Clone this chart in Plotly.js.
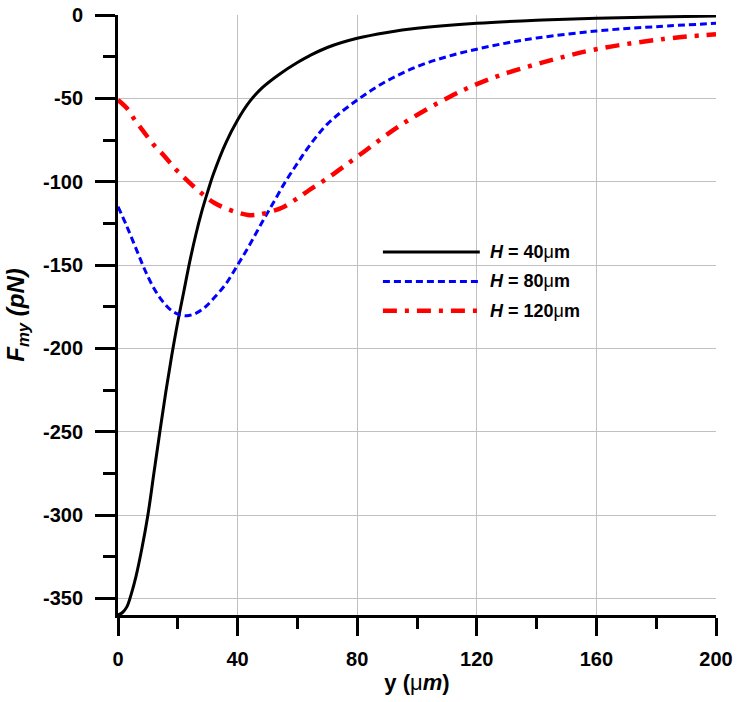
<!DOCTYPE html>
<html>
<head>
<meta charset="utf-8">
<script src="https://cdn.plot.ly/plotly-3.0.1.min.js"></script>
<style>html,body{margin:0;padding:0;background:#fff;}#chart{width:743px;height:702px;}</style>
</head>
<body>
<div id="chart"></div>
<script>
// H = 40 µm
const x40 = [0, 1.5, 3, 4.5, 6, 8, 10, 12, 14, 16, 18, 20, 22, 24, 26, 28, 30, 32, 36, 40, 44, 48, 54, 60, 64, 70, 80, 90, 100, 120, 140, 160, 180, 200];
const y40 = [-360, -358.5, -355, -347, -337, -320, -300, -275, -250, -226, -204, -184, -166, -148, -132, -118, -106, -95, -77, -63, -52, -44, -35.5, -28.5, -24.5, -19.5, -14, -10.5, -8, -5, -3.2, -2, -1.2, -0.6];
// H = 80 µm
const x80 = [0, 3, 6, 9, 12, 15, 18, 21, 23, 26, 29, 32, 36, 40, 44, 48, 52, 56, 60, 64, 70, 80, 90, 100, 110, 120, 130, 140, 160, 180, 200];
const y80 = [-115, -127, -140, -153, -164, -172, -177.5, -180, -180.5, -179, -175.5, -170, -161.5, -150, -138, -125, -112.5, -100, -89, -78.5, -65.5, -51, -39.5, -31, -25, -20.5, -16.8, -13.8, -9.6, -7, -5];
// H = 120 µm
const x120 = [0, 3, 6, 9, 12, 15.7, 19, 22.4, 26, 29, 32, 36, 40, 43.5, 46, 49, 55, 60, 64, 70, 80, 95, 111, 120, 128, 143, 160, 182, 200];
const y120 = [-51, -56, -64, -71, -78, -85, -92, -98, -104, -108.5, -112.5, -116, -118.5, -120, -120, -119, -115.5, -110, -105, -98, -85, -65.5, -49, -41.5, -36, -28, -20.5, -14.5, -11.5];
const seriesNames = ['<b><i>H</i> = 40</b>\u03bc<b>m</b>', '<b><i>H</i> = 80</b>\u03bc<b>m</b>', '<b><i>H</i> = 120</b>\u03bc<b>m</b>'];
const xTickVals = [0, 40, 80, 120, 160, 200];
const yTickVals = [-350, -300, -250, -200, -150, -100, -50, 0];

const font = 'Liberation Sans, Arial, sans-serif';
const traces = [
  {x: x40, y: y40, mode: 'lines', line: {color: '#000000', width: 3, shape: 'spline', smoothing: 1}, name: seriesNames[0], showlegend: false},
  {x: x80, y: y80, mode: 'lines', line: {color: '#0000ff', width: 3, dash: '7px,4px', shape: 'spline', smoothing: 1}, name: seriesNames[1], showlegend: false},
  {x: x120, y: y120, mode: 'lines', line: {color: '#ff0000', width: 4.5, dash: '14px,8px,4px,8px', shape: 'spline', smoothing: 1}, name: seriesNames[2], showlegend: false}
];

const legY = [0.605, 0.556, 0.507];
const legColors = ['#000000', '#0000ff', '#ff0000'];
const legDash = ['solid', '7px,4px', '14px,8px,4px,8px'];
const legW = [3, 3, 4.5];
const shapes = legY.map((yy, i) => ({type: 'line', xref: 'paper', yref: 'paper', x0: 0.443, x1: 0.605, y0: yy, y1: yy, line: {color: legColors[i], width: legW[i], dash: legDash[i]}}));
const annotations = legY.map((yy, i) => ({xref: 'paper', yref: 'paper', x: 0.618, y: yy, xanchor: 'left', yanchor: 'middle', showarrow: false, text: seriesNames[i], font: {family: font, size: 18, color: '#000'}}));

const layout = {
  width: 743, height: 702,
  margin: {l: 118, r: 27, t: 15, b: 87},
  paper_bgcolor: '#fff', plot_bgcolor: '#fff',
  font: {family: font, color: '#000'},
  showlegend: false,
  xaxis: {
    range: [0, 200], tickvals: xTickVals, ticktext: xTickVals.map(v => '<b>' + v + '</b>'),
    ticks: 'outside', ticklen: 18, tickwidth: 3, tickcolor: '#000',
    minor: {dtick: 20, tick0: 0, ticks: 'outside', ticklen: 11, tickwidth: 3, tickcolor: '#000', showgrid: false},
    showline: true, linewidth: 3, linecolor: '#000', zeroline: false,
    showgrid: true, gridcolor: '#c0c0c0', gridwidth: 1,
    tickfont: {family: font, size: 20, color: '#000'}, ticklabelstandoff: 6,
    title: {text: '<b>y (</b>\u03bc<b><i>m</i>)</b>', font: {family: font, size: 22, color: '#000'}, standoff: 6}
  },
  yaxis: {
    range: [-360, 0], tickvals: yTickVals, ticktext: yTickVals.map(v => '<b>' + v + '</b>'),
    ticks: 'outside', ticklen: 20, tickwidth: 3, tickcolor: '#000',
    minor: {dtick: 25, tick0: 0, ticks: 'outside', ticklen: 12, tickwidth: 3, tickcolor: '#000', showgrid: false},
    showline: true, linewidth: 3, linecolor: '#000', zeroline: false,
    showgrid: true, gridcolor: '#c0c0c0', gridwidth: 1,
    tickfont: {family: font, size: 20, color: '#000'}, ticklabelstandoff: 8,
    title: {text: '<b><i>F<sub>my</sub> (pN)</i></b>', font: {family: font, size: 24, color: '#000'}, standoff: 12}
  },
  shapes: shapes,
  annotations: annotations
};

Plotly.newPlot('chart', traces, layout, {displayModeBar: false, staticPlot: true});
</script>
</body>
</html>
